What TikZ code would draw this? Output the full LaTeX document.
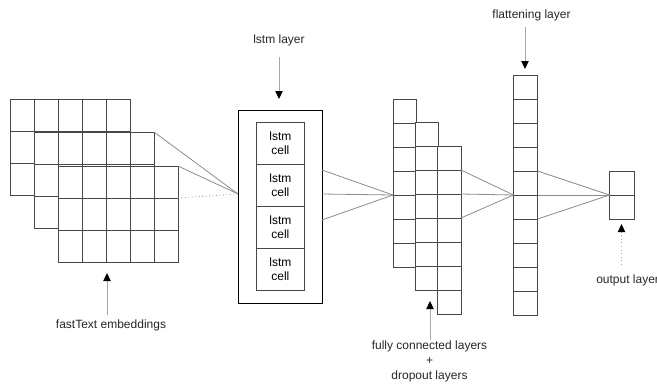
\documentclass[tikz,border=0pt]{standalone}
\usepackage{fontspec}
\setmainfont{Liberation Sans}
\usetikzlibrary{arrows.meta}
\newcommand\mygrid[7]{% name, x, y, cols, rows, cell w, cell h (px)
  \node[cellline,fill=white,anchor=north west,inner sep=0pt,outer sep=0pt,
        minimum width={#4*#6*0.75pt},minimum height={#5*#7*0.75pt}] (#1) at (#2,#3) {};
  \foreach \i in {1,...,#4}{\ifnum\i<#4
    \draw[cellline] ({#2+\i*#6},#3) -- ({#2+\i*#6},{#3+#5*#7});\fi}
  \foreach \j in {1,...,#5}{\ifnum\j<#5
    \draw[cellline] (#2,{#3+\j*#7}) -- ({#2+#4*#6},{#3+\j*#7});\fi}
}
\begin{document}
\begin{tikzpicture}[x=0.75pt,y=-0.75pt,
  cellline/.style={draw=black!72,line width=0.55pt},
  conn/.style={draw=black!45,line width=0.6pt},
  lbl/.style={font=\fontsize{9}{10.5}\selectfont,text=black!85,align=center,inner sep=0pt},
  pointer/.style={draw=black!35,line width=0.7pt,-{Triangle[length=6pt,width=5.5pt,color=black]}},
  cellbox/.style={draw=black!72,line width=0.55pt,fill=white,anchor=north west,inner sep=0pt,
        minimum width=36pt,minimum height=31.5pt,align=center,
        font=\fontsize{9}{10}\selectfont},
  ]
\useasboundingbox (0,0) rectangle (657,383);

% fastText embeddings
\mygrid{e1}{10}{99}{5}{3}{24}{32}
\mygrid{e2}{34}{132}{5}{3}{24}{32}
\mygrid{e3}{58}{166}{5}{3}{24}{32}

% lstm layer
\node[draw=black,line width=1.1pt,anchor=north west,inner sep=0pt,
      minimum width=63pt,minimum height=144.75pt] (lstm) at (238,110) {};
\node[cellbox] (c1) at (256,122) {lstm\\cell};
\node[cellbox] (c2) at (256,164) {lstm\\cell};
\node[cellbox] (c3) at (256,206) {lstm\\cell};
\node[cellbox] (c4) at (256,248) {lstm\\cell};

% fully connected + dropout layers
\mygrid{f1}{393}{99}{1}{7}{23}{24}
\mygrid{f2}{415}{122}{1}{7}{23}{24}
\mygrid{f3}{437.5}{146}{1}{7}{23.5}{24}

% flattening layer
\mygrid{fl}{513.5}{75}{1}{10}{24}{24}

% output layer
\mygrid{out}{609.5}{171}{1}{2}{24.5}{24}

% convergence points
\coordinate (lstmin) at (238,194);
\coordinate (fcin) at (393,195);
\coordinate (flin) at (513.5,195);
\coordinate (outin) at (609.5,195);
\coordinate (l1) at (322,170);
\coordinate (l2) at (322,194);
\coordinate (l3) at (322,220);

% connectors
\draw[conn] (e2.north east) -- (lstmin);
\draw[conn] (e3.north east) -- (lstmin);
\draw[conn,dotted] ([yshift=-24pt]e3.north east) -- (lstmin);

\draw[conn] (l1) -- (fcin);
\draw[conn] (l2) -- (fcin);
\draw[conn] (l3) -- (fcin);

\draw[conn] ([yshift=-18pt]f3.north east) -- (flin);
\draw[conn] ([yshift=-36pt]f3.north east) -- (flin);
\draw[conn] ([yshift=-54pt]f3.north east) -- (flin);

\draw[conn] ([yshift=-72pt]fl.north east) -- (outin);
\draw[conn] ([yshift=-90pt]fl.north east) -- (outin);
\draw[conn] ([yshift=-108pt]fl.north east) -- (outin);

% labels and pointers
\node[lbl] (tflat) at (531.5,15) {flattening layer};
\coordinate (aflat) at (525,69);
\draw[pointer] (525,27) -- (aflat);

\node[lbl] (tlstm) at (279,40) {lstm layer};
\coordinate (alstm) at (279,99);
\draw[pointer] (279,57) -- (alstm);

\node[lbl] (temb) at (111,325) {fastText embeddings};
\coordinate (aemb) at (107,273);
\draw[pointer] (107,315) -- (aemb);

\node[lbl,font=\fontsize{9}{11.2}\selectfont] (tfc) at (429.5,361) {fully connected layers\\+\\dropout layers};
\coordinate (afc) at (430,301);
\draw[pointer] (430,340) -- (afc);

\node[lbl,anchor=west] (tout) at (596,280) {output layer};
\coordinate (aout) at (621.5,224);
\draw[pointer,dotted] (621.5,265) -- (aout);
\end{tikzpicture}
\end{document}
